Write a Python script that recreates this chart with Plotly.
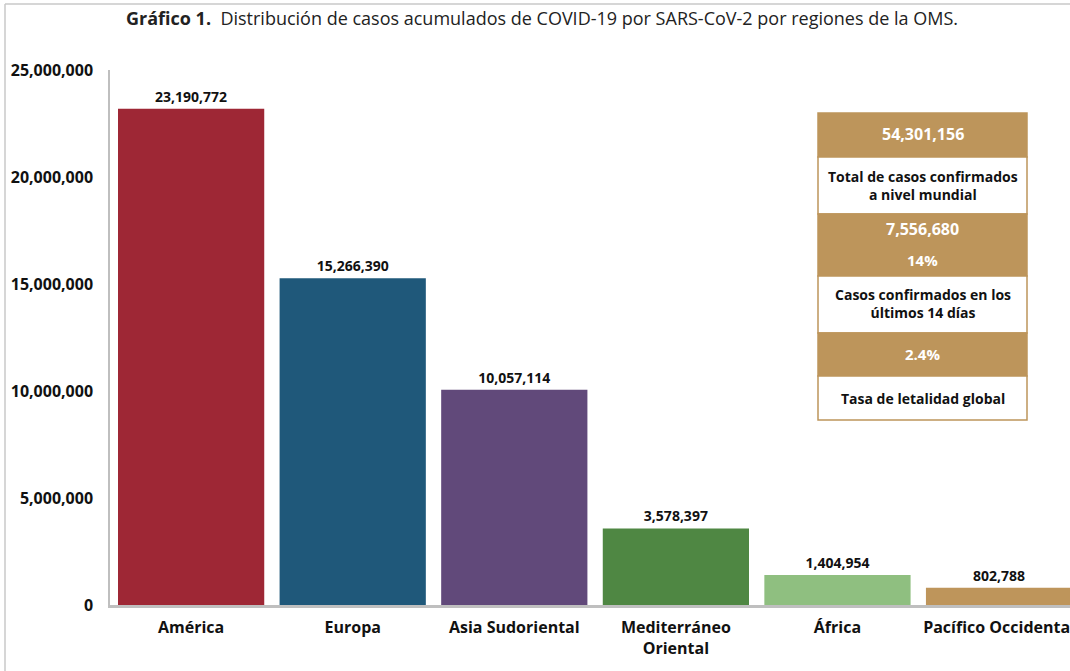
import plotly.graph_objects as go

regions = ['América', 'Europa', 'Asia Sudoriental', 'Mediterráneo<br>Oriental', 'África', 'Pacífico Occidental']
cases = [23190772, 15266390, 10057114, 3578397, 1404954, 802788]
colors = ['#9E2735', '#1F587A', '#61497A', '#4F8743', '#8FBF80', '#BE955B']
y_ticks = [0, 5000000, 10000000, 15000000, 20000000, 25000000]

total_world = '54,301,156'
last_14 = '7,556,680'
last_14_pct = '14%'
lethality = '2.4%'

FONT = 'Open Sans'
TAN = '#BD955B'

# plot area in pixels: x 110..1070, y 70..605
L, R, T, B = 110, 1070, 70, 605


def px(x):
    return (x - L) / (R - L)


def py(y):
    return (B - y) / (B - T)


fig = go.Figure()

fig.add_trace(go.Bar(
    x=regions,
    y=cases,
    marker=dict(color=colors, line=dict(width=0)),
    text=[f'{v:,}' for v in cases],
    textposition='outside',
    textfont=dict(family=FONT, size=14, color='#111111', weight='bold'),
    cliponaxis=False,
    hoverinfo='x+y',
))

shapes = []
annotations = []

# summary box on the right
rows = [
    (113, 157, TAN), (157, 214, 'white'), (214, 276, TAN),
    (276, 333, 'white'), (333, 376, TAN), (376, 420, 'white'),
]
for y0, y1, fill in rows:
    shapes.append(dict(type='rect', xref='paper', yref='paper',
                       x0=px(818), x1=px(1027), y0=py(y1), y1=py(y0),
                       fillcolor=fill, line=dict(color=TAN, width=1.5), layer='above'))

box_texts = [
    (134, total_world, 'white', 16),
    (185, 'Total de casos confirmados<br>a nivel mundial', '#111111', 14),
    (229, last_14, 'white', 16),
    (260, last_14_pct, 'white', 15),
    (303, 'Casos confirmados en los<br>últimos 14 días', '#111111', 14),
    (354, lethality, 'white', 15),
    (398, 'Tasa de letalidad global', '#111111', 14),
]
for yy, txt, col, sz in box_texts:
    annotations.append(dict(xref='paper', yref='paper', x=px(922.5), y=py(yy),
                            text=txt, showarrow=False, xanchor='center', yanchor='middle',
                            font=dict(family=FONT, size=sz, color=col, weight='bold'),
                            align='center'))

# outer frame lines
shapes.append(dict(type='line', xref='paper', yref='paper', x0=px(5), x1=px(5),
                   y0=py(675), y1=py(4), line=dict(color='#C8C8C8', width=1.5)))
shapes.append(dict(type='line', xref='paper', yref='paper', x0=px(5), x1=px(1075),
                   y0=py(4), y1=py(4), line=dict(color='#C8C8C8', width=1.5)))

# title
annotations.append(dict(xref='paper', yref='paper', x=px(542), y=py(18),
                        text='<b>Gráfico 1.</b>  Distribución de casos acumulados de COVID-19 por SARS-CoV-2 por regiones de la OMS.',
                        showarrow=False, xanchor='center', yanchor='middle',
                        font=dict(family=FONT, size=18, color='#222222')))

fig.update_layout(
    width=1070, height=671,
    margin=dict(l=L, r=1070 - R, t=T, b=671 - B, autoexpand=False),
    paper_bgcolor='white', plot_bgcolor='white',
    showlegend=False,
    bargap=0.095,
    shapes=shapes,
    annotations=annotations,
    xaxis=dict(
        range=[-0.502, 5.439],
        automargin=False,
        showgrid=False, zeroline=False,
        showline=True, linecolor='#BFBFBF', linewidth=3,
        tickfont=dict(family=FONT, size=16, color='#111111', weight='bold'),
        ticks='', ticklabelstandoff=6,
    ),
    yaxis=dict(
        range=[0, 25000000],
        automargin=False,
        tickvals=y_ticks,
        ticktext=[f'{v:,}' for v in y_ticks],
        showgrid=False, zeroline=False,
        showline=True, linecolor='#BFBFBF', linewidth=1.5,
        tickfont=dict(family=FONT, size=16, color='#111111', weight='bold'),
        ticks='', ticklabelstandoff=12,
    ),
)

fig.write_html('out.html', config={'displayModeBar': False},
               post_script="document.body.style.margin='0';")
